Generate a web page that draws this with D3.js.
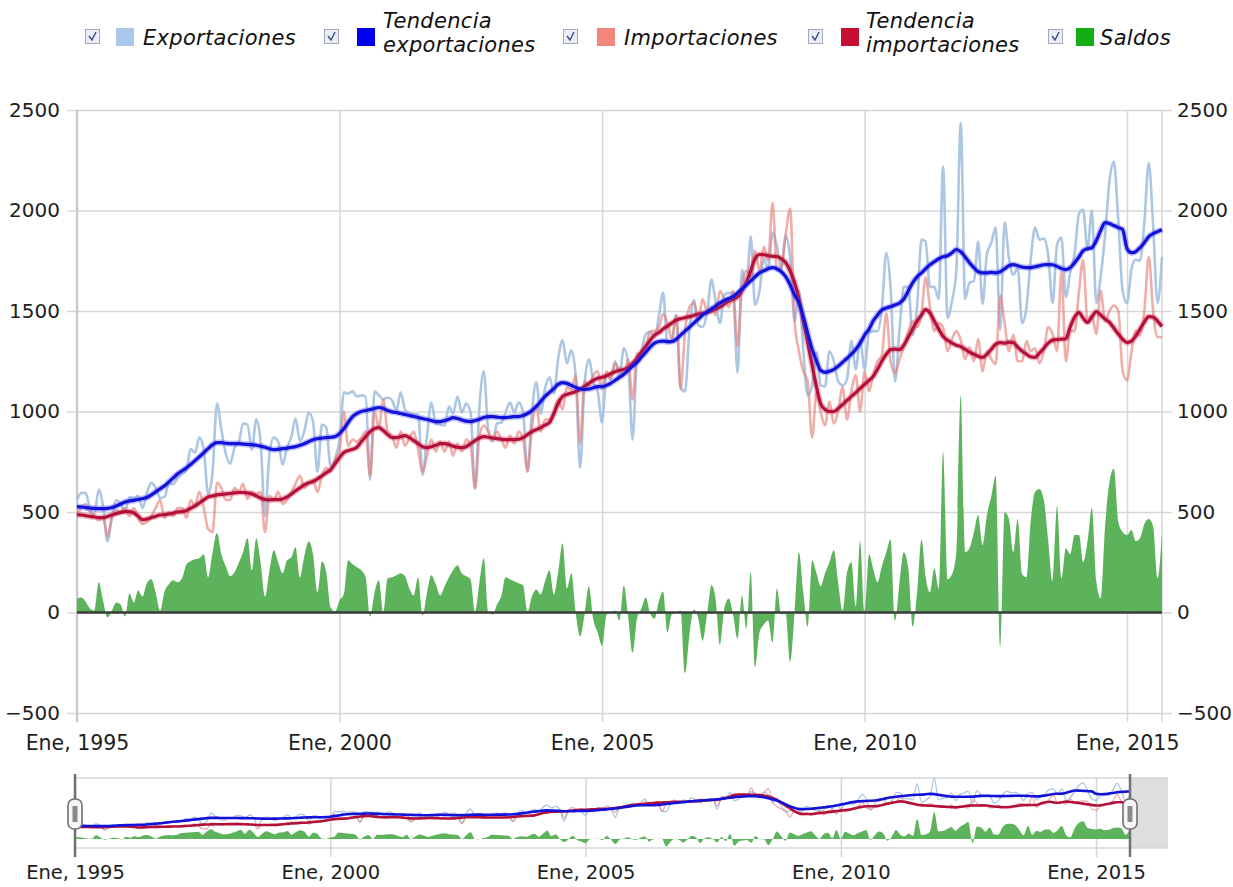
<!DOCTYPE html>
<html><head><meta charset="utf-8">
<script src="https://cdn.jsdelivr.net/npm/d3@7"></script>
<style>
body{margin:0;background:#fff;}
svg{display:block;font-family:"DejaVu Sans",Verdana,sans-serif;}
</style></head><body>
<svg id="chart" width="1233" height="887"></svg>
<script>
// ---- DATA (monthly, Jan 1995 - Sep 2015) ----
const primerMes = new Date(1995, 0, 1);
const ultimoMes = new Date(2015, 8, 1);

const exportaciones = [
 560,595,595,520,490,610,530,355,480,560,540,500,
 575,570,580,520,595,645,620,570,575,640,640,670,
 690,710,815,795,870,810,590,700,1040,910,790,740,
 820,850,940,935,810,960,850,480,790,870,850,735,
 820,875,965,855,900,995,950,700,935,920,725,765,
 860,1095,1090,1100,1075,1080,1075,660,1100,1080,1060,1070,
 1055,1005,1095,1010,990,985,985,685,880,1045,940,935,
 930,1025,990,1075,995,1040,995,620,1030,1200,905,850,
 940,945,995,1045,995,1045,995,705,1000,1145,990,1115,
 1170,1090,1260,1355,1240,1305,1180,720,1140,1260,1145,1100,
 945,1190,1160,1250,1170,1315,1240,860,1260,1300,1385,1395,
 1370,1480,1590,1340,1350,1480,1120,1100,1410,1555,1430,1420,
 1490,1656,1550,1440,1580,1590,1590,1194,1705,1620,1870,1530,
 1600,1760,1710,1890,1820,1710,1875,1765,1450,1600,1300,1080,
 1130,1295,1130,1125,1300,1250,1150,1130,1160,1350,1210,1355,
 1210,1390,1400,1400,1510,1789,1615,1150,1410,1620,1620,1380,
 1520,1855,1846,1620,1620,1560,2219,1465,1550,1700,2435,1560,
 1640,1650,1845,1535,1785,1840,1915,1407,1940,1765,1680,1715,
 1440,1525,1750,1915,1855,1860,1780,1540,1830,1865,1570,1690,
 1785,1985,2004,1805,2000,1540,1670,1880,2150,2242,1950,1600,
 1540,1710,1755,1750,1940,2236,1930,1540,1770
];

const tendenciaExportaciones = [
 527,525,522,520,518,517,517,518,522,530,540,550,
 555,558,562,567,572,585,600,615,630,650,670,690,
 705,720,736,755,775,795,815,835,845,845,842,840,
 840,840,838,836,835,832,828,822,815,810,812,815,
 818,822,825,832,840,850,860,865,868,870,872,875,
 890,915,945,975,990,1000,1005,1010,1015,1020,1015,1005,
 998,995,990,985,980,975,970,965,960,955,950,950,
 955,962,970,965,958,952,950,955,962,970,975,975,
 972,970,970,972,975,975,980,990,1005,1025,1050,1075,
 1095,1115,1135,1144,1140,1130,1120,1112,1110,1112,1118,1124,
 1124,1130,1140,1155,1170,1185,1205,1225,1245,1270,1295,1320,
 1340,1348,1350,1348,1348,1360,1380,1400,1420,1440,1460,1480,
 1495,1510,1525,1540,1552,1562,1572,1590,1610,1630,1650,1670,
 1690,1700,1710,1716,1710,1695,1671,1630,1580,1541,1470,1390,
 1310,1250,1205,1195,1200,1210,1225,1245,1265,1285,1310,1340,
 1380,1410,1450,1480,1505,1515,1522,1530,1540,1560,1600,1640,
 1670,1690,1710,1730,1745,1760,1770,1775,1790,1806,1795,1770,
 1740,1715,1695,1690,1690,1692,1690,1695,1710,1725,1731,1725,
 1718,1716,1716,1720,1725,1730,1731,1730,1722,1712,1706,1715,
 1740,1770,1800,1810,1815,1850,1900,1940,1935,1925,1915,1905,
 1810,1790,1795,1815,1840,1870,1885,1895,1905
];

const importaciones = [
 490,520,540,500,480,460,470,380,470,510,500,520,
 480,520,470,440,450,480,520,560,470,500,480,520,
 520,470,560,530,600,520,415,400,645,620,560,560,
 620,600,640,565,600,590,600,400,580,560,600,540,
 560,600,640,680,620,640,660,600,680,720,700,760,
 800,1000,830,860,850,870,900,680,1000,920,1060,900,
 880,820,900,830,870,900,810,700,780,860,800,850,
 800,850,780,840,800,860,830,615,880,930,900,860,
 900,860,820,880,840,900,860,700,920,1030,900,960,
 960,1000,1060,1010,1120,1110,1180,840,1150,1130,1180,1200,
 1110,1200,1160,1240,1210,1180,1260,1060,1290,1280,1310,1400,
 1400,1420,1485,1440,1360,1480,1110,1400,1520,1540,1460,1560,
 1500,1521,1480,1600,1560,1520,1600,1324,1620,1700,1670,1800,
 1700,1820,1750,2040,1700,1720,1880,2010,1450,1300,1200,1150,
 870,1100,1000,930,1050,940,1000,1120,960,1100,1180,1000,
 1200,1100,1180,1250,1280,1489,1250,1190,1260,1320,1400,1450,
 1420,1490,1666,1520,1400,1440,1419,1300,1360,1400,1355,1260,
 1320,1250,1360,1200,1300,1260,1235,1577,1440,1300,1380,1250,
 1250,1350,1300,1315,1240,1300,1420,1385,1300,1695,1250,1400,
 1400,1600,1754,1450,1480,1385,1600,1450,1500,1527,1500,1200,
 1155,1300,1400,1380,1500,1771,1500,1370,1370
];

const tendenciaImportaciones = [
 487,485,482,478,475,472,472,478,485,492,498,502,
 502,495,480,462,465,472,478,485,487,490,495,500,
 502,508,518,530,545,560,575,580,585,588,590,592,
 595,597,597,595,590,580,570,562,560,562,562,565,
 575,590,605,620,635,645,652,665,680,695,711,740,
 770,796,805,812,822,850,875,900,915,920,905,885,
 870,870,875,880,870,855,840,825,820,825,832,840,
 840,835,828,822,820,825,840,855,868,875,872,868,
 865,862,860,860,860,862,870,885,900,910,920,932,
 945,990,1040,1075,1085,1092,1099,1110,1125,1140,1155,1165,
 1170,1178,1188,1198,1205,1209,1220,1240,1265,1295,1325,1355,
 1380,1393,1410,1425,1440,1455,1462,1467,1472,1478,1485,1489,
 1492,1500,1510,1520,1535,1550,1557,1570,1600,1641,1700,1760,
 1781,1780,1775,1772,1771,1760,1741,1700,1641,1560,1450,1343,
 1230,1120,1040,1010,1000,1000,1015,1035,1055,1075,1094,1115,
 1135,1155,1174,1210,1250,1285,1308,1310,1308,1330,1370,1410,
 1450,1480,1507,1490,1450,1410,1373,1355,1340,1330,1323,1310,
 1295,1285,1275,1269,1285,1310,1335,1343,1340,1345,1343,1320,
 1300,1285,1272,1269,1290,1315,1340,1355,1358,1360,1362,1420,
 1470,1492,1465,1443,1470,1497,1480,1460,1443,1415,1385,1360,
 1343,1350,1373,1410,1445,1472,1470,1450,1423
];

const saldos = [
 70,75,55,20,10,150,60,-25,10,50,40,-20,
 95,50,110,80,145,165,100,10,105,140,160,150,
 170,240,255,265,270,290,175,300,395,290,230,180,
 200,250,300,370,210,370,250,80,210,310,250,195,
 260,275,325,175,280,355,290,100,255,200,25,5,
 60,95,260,240,225,210,175,-20,100,160,0,170,
 175,185,195,180,120,85,175,-15,100,185,140,85,
 130,175,210,235,195,180,165,5,150,270,5,-10,
 40,85,175,165,155,145,135,5,80,115,90,155,
 210,90,200,345,120,195,0,-120,-10,130,-35,-100,
 -165,-10,0,10,-40,135,-20,-200,-30,20,75,-5,
 -30,60,105,-100,-10,0,10,-300,-110,15,-30,-140,
 -10,135,70,-160,20,70,-10,-130,85,-80,200,-270,
 -100,-60,-40,-150,120,-10,-5,-245,0,300,100,-70,
 260,195,130,195,250,310,150,10,200,250,30,355,
 10,290,220,150,230,300,365,-40,150,300,220,-70,
 100,365,180,100,220,120,800,165,190,300,1080,300,
 320,400,485,335,485,580,680,-170,500,465,300,465,
 190,175,450,600,615,560,360,155,530,170,320,290,
 385,385,250,355,520,155,70,430,650,715,450,400,
 385,410,355,370,440,465,430,170,400
];

const yTicks = [-500, 0, 500, 1000, 1500, 2000, 2500];
const xTickYears = [1995, 2000, 2005, 2010, 2015];
const xTickLabels = ["Ene, 1995", "Ene, 2000", "Ene, 2005", "Ene, 2010", "Ene, 2015"];

const legendItems = [
  {lines: ["Exportaciones"], color: "#a9c8ea"},
  {lines: ["Tendencia", "exportaciones"], color: "#0000ee"},
  {lines: ["Importaciones"], color: "#f1877c"},
  {lines: ["Tendencia", "importaciones"], color: "#c70f35"},
  {lines: ["Saldos"], color: "#14ad14"}
];

// ---- CHART ----
const fechas = exportaciones.map((_, i) => new Date(1995, i, 1));
const tickDates = xTickYears.map(y => new Date(y, 0, 1));
const svg = d3.select("#chart");
const FONT = "DejaVu Sans, Verdana, sans-serif";

const C = {
  rawExp: "rgba(163,192,224,0.9)",
  rawImp: "rgba(231,125,118,0.62)",
  trendExp: "#1212d8",
  trendImp: "#b3103a",
  area: "#5cb35c",
  grid: "#d6d6d6"
};

// main scales
const x = d3.scaleTime().domain([primerMes, ultimoMes]).range([77, 1162]);
const y = d3.scaleLinear().domain([-500, 2500]).range([713, 110]);

function styleText(sel, size) {
  sel.attr("font-size", size).attr("fill", "#1e1e1e").attr("font-family", FONT);
}

// horizontal gridlines + left labels
const gLeft = svg.append("g").attr("transform", "translate(1172,0)")
  .call(d3.axisLeft(y).tickValues(yTicks).tickSize(1105).tickPadding(7).tickFormat(d3.format("d")));
gLeft.select(".domain").remove();
gLeft.selectAll("line").attr("stroke", C.grid).attr("stroke-width", 1.5);
styleText(gLeft.selectAll("text"), 20);

const gRight = svg.append("g").attr("transform", "translate(1162,0)")
  .call(d3.axisRight(y).tickValues(yTicks).tickSize(10).tickPadding(5).tickFormat(d3.format("d")));
gRight.select(".domain").remove();
gRight.selectAll("line").remove();
styleText(gRight.selectAll("text"), 20);

// vertical gridlines + bottom labels
const gBottom = svg.append("g").attr("transform", "translate(0,110)")
  .call(d3.axisBottom(x).tickValues(tickDates).tickSize(612).tickPadding(13)
    .tickFormat((d, i) => xTickLabels[i]));
gBottom.select(".domain").remove();
gBottom.selectAll("line").attr("stroke", C.grid).attr("stroke-width", 1.5);
styleText(gBottom.selectAll("text"), 20.5);

svg.append("line").attr("x1", x(ultimoMes)).attr("x2", x(ultimoMes))
  .attr("y1", 110).attr("y2", 722).attr("stroke", C.grid).attr("stroke-width", 1.5);
svg.append("line").attr("x1", 77).attr("x2", 77)
  .attr("y1", 110).attr("y2", 722).attr("stroke", "#c8c8c8").attr("stroke-width", 2);

function drawSeries(g, xs, ys, opt) {
  const area = d3.area().x((d, i) => xs(fechas[i])).y0(ys(0)).y1(d => ys(d)).curve(d3.curveMonotoneX);
  const line = d3.line().x((d, i) => xs(fechas[i])).y(d => ys(d)).curve(d3.curveMonotoneX);
  g.append("path").datum(saldos).attr("d", area).attr("fill", C.area);
  g.append("path").datum(exportaciones).attr("d", line).attr("fill", "none")
    .attr("stroke", C.rawExp).attr("stroke-width", opt.raw).attr("stroke-linejoin", "round");
  g.append("path").datum(importaciones).attr("d", line).attr("fill", "none")
    .attr("stroke", C.rawImp).attr("stroke-width", opt.raw).attr("stroke-linejoin", "round");
  [[tendenciaImportaciones, C.trendImp, "rgba(214,70,100,0.35)"],
   [tendenciaExportaciones, C.trendExp, "rgba(80,80,255,0.35)"]].forEach(([data, col, halo]) => {
    if (opt.halo) g.append("path").datum(data).attr("d", line).attr("fill", "none")
      .attr("stroke", halo).attr("stroke-width", opt.trend + 3);
    g.append("path").datum(data).attr("d", line).attr("fill", "none")
      .attr("stroke", col).attr("stroke-width", opt.trend).attr("stroke-linejoin", "round");
  });
}

const gMain = svg.append("g");
drawSeries(gMain, x, y, {raw: 2.6, trend: 3.2, halo: true});

// zero line
svg.append("line").attr("x1", 77).attr("x2", 1162).attr("y1", y(0)).attr("y2", y(0))
  .attr("stroke", "#3c3c3c").attr("stroke-width", 2.5);

// ---- NAVIGATOR ----
const xn = d3.scaleTime().domain([primerMes, ultimoMes]).range([75, 1130]);
const yn = d3.scaleLinear().domain([-360, 2440]).range([848, 778]);

svg.append("rect").attr("x", 1130).attr("y", 778).attr("width", 38).attr("height", 70).attr("fill", "#dedede");
const gNavAxis = svg.append("g").attr("transform", "translate(0,778)")
  .call(d3.axisBottom(xn).tickValues(tickDates).tickSize(79).tickPadding(8)
    .tickFormat((d, i) => xTickLabels[i]));
gNavAxis.select(".domain").remove();
gNavAxis.selectAll("line").attr("stroke", C.grid).attr("stroke-width", 1.5);
styleText(gNavAxis.selectAll("text"), 19.5);
svg.append("line").attr("x1", 75).attr("x2", 1168).attr("y1", 778).attr("y2", 778).attr("stroke", C.grid).attr("stroke-width", 1.5);
svg.append("line").attr("x1", 75).attr("x2", 1168).attr("y1", 848).attr("y2", 848).attr("stroke", C.grid).attr("stroke-width", 1.5);

const gNav = svg.append("g");
drawSeries(gNav, xn, yn, {raw: 1.3, trend: 2.6, halo: false});

// handles
[xn(primerMes), xn(ultimoMes)].forEach(hx => {
  svg.append("line").attr("x1", hx).attr("x2", hx).attr("y1", 774).attr("y2", 857)
    .attr("stroke", "#707070").attr("stroke-width", 2.5);
  svg.append("rect").attr("x", hx - 7).attr("y", 799).attr("width", 14).attr("height", 30)
    .attr("rx", 6).attr("fill", "#f6f6f6").attr("stroke", "#707070").attr("stroke-width", 1.6);
  svg.append("rect").attr("x", hx - 2.5).attr("y", 806).attr("width", 5).attr("height", 16)
    .attr("fill", "#8a8a8a");
});

// ---- LEGEND ----
const legendX = [85, 324, 563, 808, 1048];
const swatchX = [116, 357, 597, 841, 1076];
const textX = [143, 383, 624, 866, 1100];
legendItems.forEach((it, i) => {
  const g = svg.append("g");
  g.append("rect").attr("x", legendX[i] + 0.5).attr("y", 29.5).attr("width", 14).attr("height", 14)
    .attr("fill", "#e9edf5").attr("stroke", "#a2a9b8").attr("stroke-width", 1);
  g.append("path").attr("d", `M${legendX[i]+4},${36} L${legendX[i]+7},${40} L${legendX[i]+11},${32}`)
    .attr("fill", "none").attr("stroke", "#3a4a80").attr("stroke-width", 1.4);
  g.append("rect").attr("x", swatchX[i]).attr("y", 28).attr("width", 18).attr("height", 18)
    .attr("fill", it.color);
  const t = g.append("text").attr("font-size", 21).attr("font-style", "italic").attr("fill", "#111")
    .attr("letter-spacing", 0.3).attr("font-family", FONT);
  if (it.lines.length === 1) {
    t.append("tspan").attr("x", textX[i]).attr("y", 45).text(it.lines[0]);
  } else {
    t.append("tspan").attr("x", textX[i]).attr("y", 28).text(it.lines[0]);
    t.append("tspan").attr("x", textX[i]).attr("y", 52).text(it.lines[1]);
  }
});
</script>
</body></html>
